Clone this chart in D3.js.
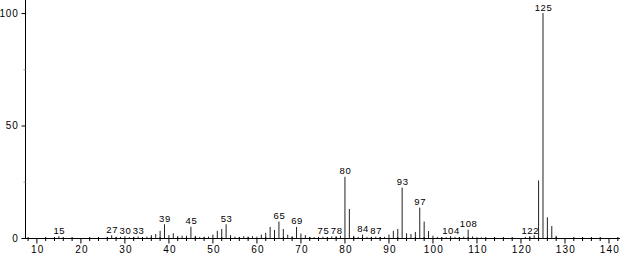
<!DOCTYPE html>
<html><head><meta charset="utf-8">
<script src="https://cdn.jsdelivr.net/npm/d3@7"></script>
<style>
html,body{margin:0;padding:0;background:#fff;}
svg{display:block;}
text{font-family:"Liberation Sans",Arial,sans-serif;fill:#000;}
</style></head>
<body>
<svg id="c" width="623" height="254"></svg>
<script>
const mz = [14,15,26,27,28,29,30,31,32,33,34,35,36,37,38,39,40,41,42,43,44,45,46,47,48,49,50,51,52,53,54,55,56,57,58,59,60,61,62,63,64,65,66,67,68,69,70,71,72,73,74,75,76,77,78,79,80,81,82,83,84,85,86,87,88,89,90,91,92,93,94,95,96,97,98,99,100,101,102,103,104,105,106,107,108,109,110,111,121,122,123,124,125,126,127,128];
const intensity = [0.4,0.8,0.5,1.2,0.5,0.5,0.8,0.4,0.5,0.7,0.4,0.6,1.3,1.8,3.2,6.1,1.3,2.1,0.8,1.0,1.0,5.0,1.0,0.5,0.5,0.6,1.5,3.2,4.0,6.1,1.3,0.6,0.5,0.8,0.6,0.8,0.6,1.5,2.3,4.9,3.6,7.3,4.0,1.5,0.8,4.9,2.0,1.3,0.5,0.4,0.5,0.6,0.4,0.7,0.8,1.0,27.2,12.9,1.0,0.5,1.5,0.5,0.5,0.6,0.4,0.5,1.5,3.2,4.0,22.4,2.1,1.8,2.7,13.5,7.3,3.1,1.0,0.5,0.3,0.4,0.8,0.5,0.4,0.6,3.7,0.7,0.4,0.3,0.5,0.8,1.2,25.6,100,9.2,5.3,1.0];
const labeledPeaks = [15,27,30,33,39,45,53,65,69,75,78,80,84,87,93,97,104,108,122,125];
const xTickValues = [10,20,30,40,50,60,70,80,90,100,110,120,130,140];
const yTickValues = [0,50,100];
const yMinorTicks = [25,75];

const svg = d3.select("#c");
const x = d3.scaleLinear().domain([7.3,142.5]).range([25,620]);
const y = d3.scaleLinear().domain([0,105.8]).range([238,0]);

const peaks = mz.map((m,i)=>({m, v:intensity[i]}));

// peaks
svg.append("g").selectAll("line").data(peaks).join("line")
  .attr("x1",d=>x(d.m)).attr("x2",d=>x(d.m))
  .attr("y1",y(0)).attr("y2",d=>y(d.v))
  .attr("stroke","#222").attr("stroke-width",1);

// x axis
const xAxisG = svg.append("g").attr("transform",`translate(0,${y(0)+0.5})`);
xAxisG.append("line").attr("x1",25).attr("x2",620).attr("stroke","#000");
const minor = d3.range(8,143,2).filter(v=>v%10!==0);
xAxisG.selectAll("line.mn").data(minor).join("line").attr("class","mn")
  .attr("x1",d=>x(d)).attr("x2",d=>x(d)).attr("y1",-1.5).attr("y2",2.5).attr("stroke","#000");
xAxisG.selectAll("line.mj").data(xTickValues).join("line").attr("class","mj")
  .attr("x1",d=>x(d)).attr("x2",d=>x(d)).attr("y1",0).attr("y2",5).attr("stroke","#000");
xAxisG.selectAll("text").data(xTickValues).join("text")
  .attr("x",d=>x(d)+1).attr("y",14.5).attr("text-anchor","middle")
  .attr("font-size","10px").attr("letter-spacing","1.2px").text(d=>d);

// y axis
const yAxisG = svg.append("g").attr("transform",`translate(25.5,0)`);
yAxisG.append("line").attr("y1",0).attr("y2",y(0)+0.5).attr("stroke","#000");
yAxisG.selectAll("line.mj").data(yTickValues).join("line").attr("class","mj")
  .attr("x1",-4).attr("x2",0).attr("y1",d=>y(d)+0.5).attr("y2",d=>y(d)+0.5).attr("stroke","#000");
yAxisG.selectAll("line.mn").data(yMinorTicks).join("line").attr("class","mn")
  .attr("x1",-2).attr("x2",0).attr("y1",d=>y(d)+0.5).attr("y2",d=>y(d)+0.5).attr("stroke","#999");
yAxisG.selectAll("text").data(yTickValues).join("text")
  .attr("x",-7).attr("y",d=>y(d)+3.5).attr("text-anchor","end")
  .attr("font-size","10px").attr("letter-spacing","0.8px").text(d=>d);

// peak labels
const lab = peaks.filter(p=>labeledPeaks.includes(p.m));
svg.append("g").selectAll("text").data(lab).join("text")
  .attr("x",d=>x(d.m)+0.5).attr("y",d=>y(d.v)-2.5).attr("text-anchor","middle")
  .attr("font-size","9.5px").attr("letter-spacing","0.6px").text(d=>d.m);
</script>
</body></html>
